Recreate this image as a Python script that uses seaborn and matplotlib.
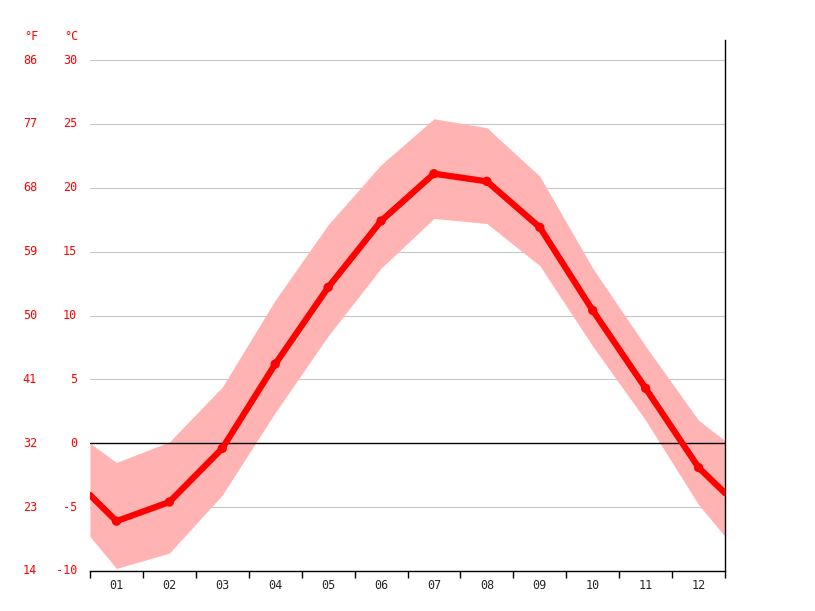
import matplotlib
matplotlib.use("Agg")
import matplotlib.pyplot as plt
import seaborn as sns
import pandas as pd
import numpy as np

months = ["01","02","03","04","05","06","07","08","09","10","11","12"]
mean_c = [-6.1,-4.6,-0.4,6.2,12.2,17.4,21.1,20.5,16.9,10.4,4.3,-1.9]
high_c = [-1.5,0.1,4.4,11.2,17.1,21.8,25.4,24.7,20.9,13.7,7.6,1.8]
low_c = [-9.8,-8.6,-4.05,2.4,8.4,13.7,17.6,17.2,13.9,7.6,1.8,-4.8]
edge_mean = [-4.05,-3.9]
edge_high = [0.0,0.2]
edge_low = [-7.3,-7.3]
c_ticks = [-10,-5,0,5,10,15,20,25,30]
f_ticks = [14,23,32,41,50,59,68,77,86]

sns.set_theme(style="white")
plt.rcParams['font.family'] = ['DejaVu Sans']
fig = plt.figure(figsize=(8.15,6.11), dpi=100)
ax = fig.add_axes([90/815, 40/611, 635/815, 531/611])

x = list(range(1,13))
xe = [0.5] + x + [12.5]
df = pd.DataFrame({"x": xe, "mean": [edge_mean[0]]+mean_c+[edge_mean[1]],
                   "high": [edge_high[0]]+high_c+[edge_high[1]],
                   "low": [edge_low[0]]+low_c+[edge_low[1]]})
ax.fill_between(df["x"], df["low"], df["high"], color="#ffb3b3", lw=0, zorder=2)
for c in c_ticks:
    if c != 0:
        ax.axhline(c, color="#c8c8c8", lw=0.8, zorder=1)
ax.axhline(0, color="black", lw=1, zorder=3)
sns.lineplot(data=df, x="x", y="mean", color="#ff0000", lw=4.5, ax=ax, zorder=4)
sns.scatterplot(x=x, y=mean_c, color="#ff0000", s=45, edgecolor="none", ax=ax, zorder=5)

ax.set_xlim(0.5,12.5)
ax.set_ylim(-10, 30+20/12.775)
ax.set_xticks(x)
ax.set_xticklabels(months, fontsize=8.5, family="DejaVu Sans Mono")
ax.set_xticks(np.arange(0.5,13,1), minor=True)
ax.tick_params(axis="x", which="major", length=0, pad=6)
ax.tick_params(axis="x", which="minor", length=5, direction="out", color="black", bottom=True)
ax.set_yticks([])
ax.set_xlabel(""); ax.set_ylabel("")
for s in ["left","top"]:
    ax.spines[s].set_visible(False)
for s in ["bottom","right"]:
    ax.spines[s].set_color("black"); ax.spines[s].set_linewidth(1)

tr = matplotlib.transforms.blended_transform_factory(fig.transFigure, ax.transData)
for c, f in zip(c_ticks, f_ticks):
    ax.text(37/815, c, str(f), transform=tr, color="red", fontsize=8.5, ha="right", va="center", family="DejaVu Sans Mono")
    ax.text(77/815, c, str(c), transform=tr, color="red", fontsize=8.5, ha="right", va="center", family="DejaVu Sans Mono")
fig.text(31/815, 1-36/611, "°F", color="red", fontsize=8.5, ha="center", va="center", family="DejaVu Sans Mono")
fig.text(71/815, 1-36/611, "°C", color="red", fontsize=8.5, ha="center", va="center", family="DejaVu Sans Mono")

fig.savefig("out.png", dpi=100)
